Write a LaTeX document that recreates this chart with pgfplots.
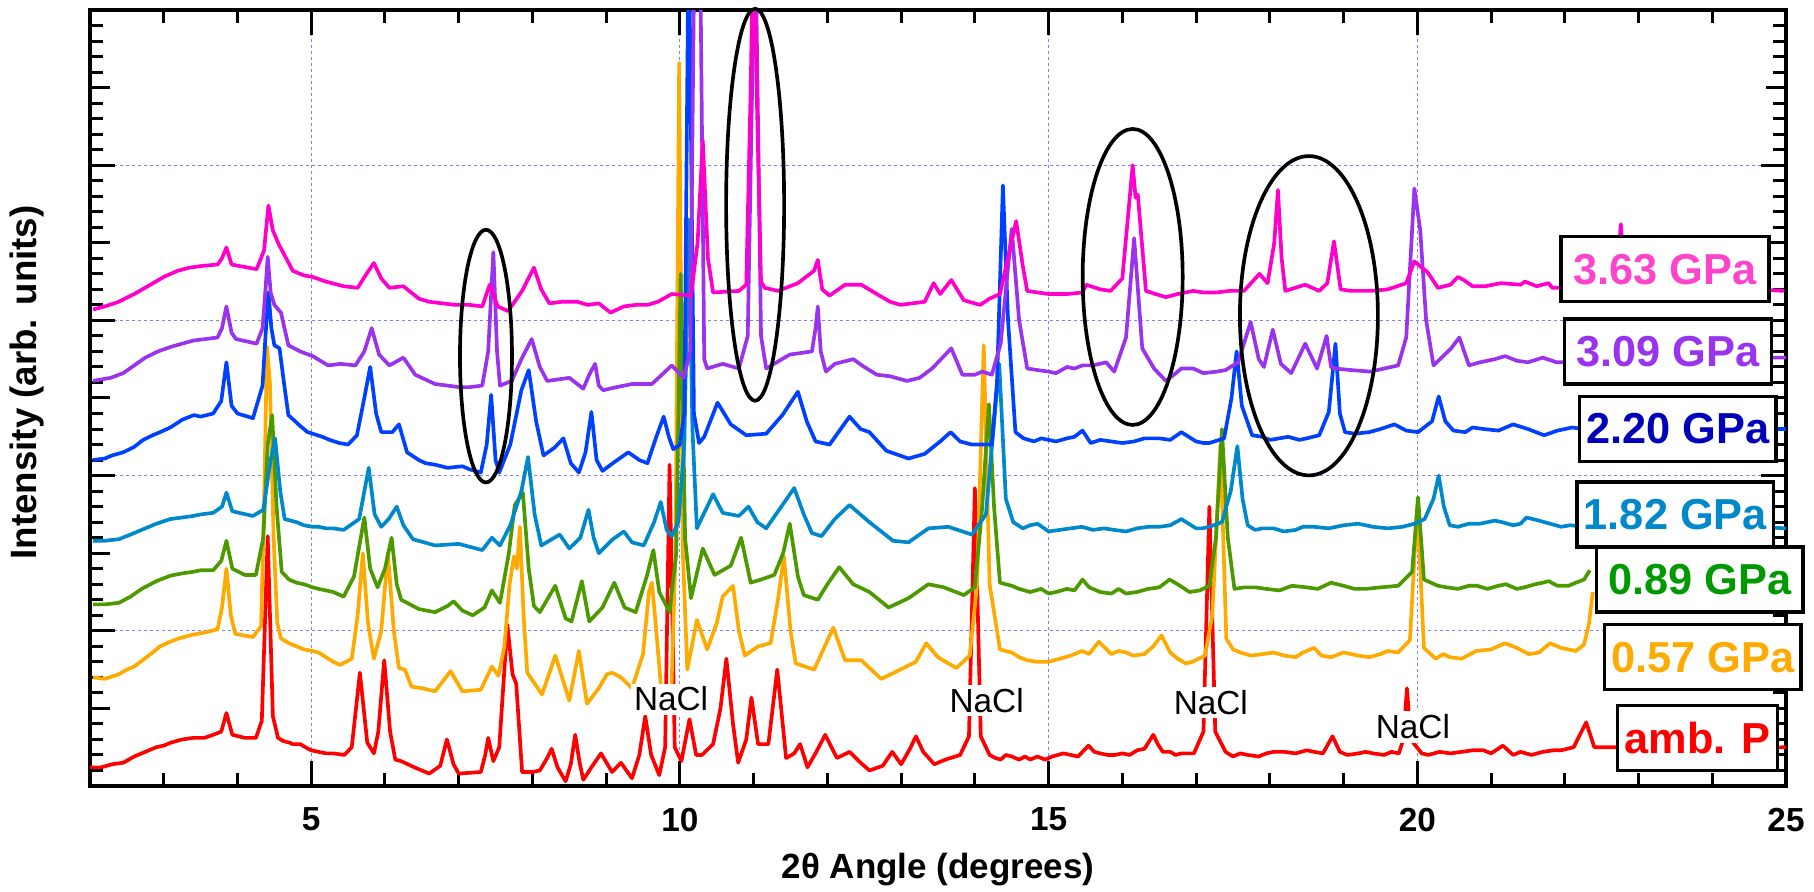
\documentclass[border=0pt]{standalone}
\usepackage{fontspec}
\setmainfont{Liberation Sans}
\usepackage{pgfplots}
\pgfplotsset{compat=1.18}

\definecolor{cRed}{HTML}{FF0000}
\definecolor{cOrange}{HTML}{FFAA00}
\definecolor{cGreen}{HTML}{4C9A00}
\definecolor{cGreenTxt}{HTML}{009900}
\definecolor{cCyan}{HTML}{0088CC}
\definecolor{cBlue}{HTML}{0040FF}
\definecolor{cBlueTxt}{HTML}{0000BB}
\definecolor{cPurple}{HTML}{9933EE}
\definecolor{cPink}{HTML}{FF00CC}
\definecolor{cPinkTxt}{HTML}{FF44CC}
\definecolor{gridc}{HTML}{8080FF}

\begin{document}
\begin{tikzpicture}
\begin{axis}[
  name=ax, scale only axis, width=508.8pt, height=232.8pt,
  xmin=2, xmax=25, ymin=0, ymax=5,
  xtick={5,10,15,20,25}, minor xtick={2,3,...,25},
  ytick={0,1,2,3,4,5}, minor ytick={0,0.1,...,5.01}, yticklabels={},
  extra y ticks={0.5,1.5,2.5,3.5,4.5}, extra y tick labels={},
  extra y tick style={grid=none, major tick length=6pt},
  tick align=inside, xtick pos=both, ytick pos=both,
  major tick length=7.5pt, minor tick length=4pt,
  every tick/.style={black, line width=0.9pt},
  axis line style={line width=1.3pt},
  grid=major, major grid style={gridc, line width=0.35pt, dash pattern=on 1pt off 0.8pt},
  ticklabel style={font=\fontsize{10}{12}\selectfont\bfseries},
  /pgf/number format/assume math mode=true,
  xticklabel style={yshift=-3pt},
  xlabel={2θ Angle (degrees)}, ylabel={Intensity (arb. units)},
  xlabel style={font=\fontsize{10.5}{12}\selectfont\bfseries, at={(axis description cs:0.5,-0.108)}, anchor=center},
  ylabel style={font=\fontsize{11}{13}\selectfont\bfseries, at={(axis description cs:-0.037,0.52)}, anchor=center},
  every axis plot/.append style={line width=1.1pt, no markers, line join=round},
]
% amb. P
\addplot[cRed] coordinates {(2.00,0.12)(2.15,0.12)(2.3,0.14)(2.45,0.15)(2.6,0.19)(2.75,0.22)(2.9,0.25)(3.0,0.26)(3.1,0.28)(3.25,0.30)(3.4,0.31)(3.55,0.31)(3.67,0.33)(3.78,0.35)(3.85,0.47)(3.93,0.33)(4.1,0.31)(4.25,0.31)(4.33,0.42)(4.41,1.61)(4.48,0.45)(4.55,0.31)(4.62,0.29)(4.7,0.28)(4.75,0.27)(4.85,0.27)(4.92,0.25)(5.0,0.23)(5.1,0.22)(5.2,0.21)(5.3,0.21)(5.45,0.20)(5.55,0.25)(5.66,0.73)(5.76,0.28)(5.85,0.21)(5.91,0.35)(5.99,0.81)(6.07,0.35)(6.14,0.17)(6.22,0.16)(6.4,0.12)(6.6,0.08)(6.75,0.13)(6.84,0.30)(6.93,0.14)(7.0,0.08)(7.3,0.09)(7.36,0.2)(7.4,0.31)(7.47,0.16)(7.55,0.25)(7.66,1.04)(7.73,0.72)(7.78,0.66)(7.86,0.09)(8.0,0.09)(8.1,0.10)(8.2,0.18)(8.26,0.24)(8.34,0.12)(8.45,0.03)(8.52,0.14)(8.58,0.33)(8.64,0.15)(8.69,0.04)(8.8,0.12)(8.93,0.21)(9.08,0.09)(9.2,0.15)(9.35,0.05)(9.45,0.20)(9.53,0.45)(9.61,0.20)(9.72,0.07)(9.8,0.25)(9.86,2.07)(9.93,0.25)(10.02,0.16)(10.13,0.43)(10.22,0.2)(10.3,0.20)(10.45,0.27)(10.55,0.5)(10.63,0.82)(10.72,0.4)(10.79,0.15)(10.9,0.3)(10.97,0.57)(11.06,0.27)(11.2,0.27)(11.32,0.75)(11.44,0.18)(11.55,0.21)(11.63,0.27)(11.73,0.12)(11.85,0.22)(11.97,0.33)(12.13,0.18)(12.3,0.22)(12.45,0.15)(12.57,0.10)(12.75,0.13)(12.88,0.22)(13.0,0.14)(13.12,0.24)(13.2,0.32)(13.3,0.22)(13.45,0.14)(13.6,0.17)(13.8,0.20)(13.92,0.32)(14.0,1.92)(14.08,0.32)(14.2,0.20)(14.28,0.18)(14.35,0.17)(14.42,0.2)(14.5,0.19)(14.6,0.17)(14.68,0.19)(14.75,0.17)(14.85,0.19)(14.95,0.17)(15.05,0.19)(15.2,0.21)(15.3,0.20)(15.4,0.19)(15.54,0.26)(15.62,0.22)(15.7,0.21)(15.8,0.2)(15.9,0.20)(16.0,0.21)(16.1,0.2)(16.2,0.23)(16.3,0.24)(16.42,0.33)(16.48,0.27)(16.55,0.22)(16.65,0.22)(16.72,0.2)(16.8,0.21)(16.88,0.21)(16.97,0.21)(17.1,0.35)(17.18,1.80)(17.26,0.35)(17.4,0.22)(17.5,0.19)(17.6,0.21)(17.7,0.20)(17.85,0.19)(17.95,0.21)(18.05,0.22)(18.2,0.22)(18.35,0.21)(18.5,0.23)(18.6,0.22)(18.72,0.21)(18.85,0.32)(18.95,0.22)(19.05,0.2)(19.2,0.21)(19.3,0.22)(19.4,0.21)(19.55,0.2)(19.65,0.22)(19.75,0.21)(19.81,0.3)(19.86,0.63)(19.91,0.3)(20.06,0.21)(20.15,0.2)(20.3,0.22)(20.45,0.21)(20.6,0.22)(20.75,0.23)(20.9,0.23)(21.0,0.21)(21.16,0.26)(21.3,0.20)(21.4,0.22)(21.55,0.2)(21.7,0.22)(21.85,0.23)(21.95,0.23)(22.12,0.25)(22.29,0.41)(22.4,0.25)(22.7,0.25)(23.2,0.24)(23.7,0.26)(24.3,0.24)(25,0.25)};
% 0.57 GPa
\addplot[cOrange] coordinates {(2.04,0.70)(2.2,0.69)(2.39,0.72)(2.5,0.75)(2.6,0.77)(2.85,0.86)(2.95,0.9)(3.09,0.93)(3.2,0.95)(3.35,0.97)(3.45,0.98)(3.57,0.99)(3.73,1.01)(3.79,1.15)(3.85,1.40)(3.91,1.1)(3.97,0.98)(4.21,0.96)(4.32,1.03)(4.36,1.8)(4.40,2.83)(4.44,2.6)(4.49,1.6)(4.54,1.05)(4.59,0.95)(4.7,0.92)(4.8,0.90)(4.9,0.88)(5.02,0.87)(5.1,0.86)(5.2,0.83)(5.3,0.8)(5.39,0.78)(5.55,0.82)(5.63,1.1)(5.70,1.50)(5.77,1.05)(5.85,0.82)(5.95,1.0)(6.04,1.50)(6.12,1.0)(6.19,0.76)(6.27,0.75)(6.36,0.64)(6.5,0.63)(6.68,0.61)(6.89,0.74)(7.05,0.61)(7.3,0.62)(7.45,0.77)(7.54,0.71)(7.62,0.9)(7.69,1.3)(7.75,1.48)(7.79,1.4)(7.83,1.67)(7.88,1.1)(7.93,0.73)(8.13,0.59)(8.31,0.84)(8.5,0.55)(8.63,0.87)(8.74,0.53)(8.9,0.63)(9.01,0.72)(9.08,0.73)(9.2,0.70)(9.35,0.63)(9.5,0.85)(9.58,1.25)(9.62,1.31)(9.68,1.0)(9.75,0.6)(9.88,0.55)(9.94,1.5)(9.99,4.66)(10.04,1.5)(10.1,0.75)(10.23,1.07)(10.37,0.88)(10.5,1.05)(10.58,1.22)(10.72,1.29)(10.8,1.0)(10.88,0.84)(11.06,0.90)(11.23,0.92)(11.33,1.2)(11.41,1.48)(11.5,1.0)(11.57,0.79)(11.82,0.75)(12.08,1.02)(12.24,0.81)(12.46,0.81)(12.73,0.69)(12.99,0.75)(13.2,0.8)(13.34,0.92)(13.5,0.83)(13.64,0.79)(13.75,0.76)(13.93,0.84)(14.03,1.3)(14.12,2.84)(14.2,1.3)(14.34,0.88)(14.5,0.86)(14.6,0.83)(14.71,0.81)(14.85,0.8)(15.0,0.80)(15.15,0.82)(15.3,0.84)(15.45,0.87)(15.55,0.85)(15.68,0.93)(15.85,0.85)(15.95,0.87)(16.05,0.86)(16.15,0.84)(16.3,0.85)(16.42,0.9)(16.53,0.97)(16.65,0.86)(16.75,0.82)(16.86,0.79)(16.95,0.8)(17.12,0.84)(17.22,1.1)(17.33,2.2)(17.41,0.95)(17.5,0.88)(17.6,0.86)(17.75,0.84)(17.9,0.85)(18.05,0.86)(18.2,0.84)(18.35,0.83)(18.45,0.86)(18.6,0.89)(18.7,0.84)(18.83,0.83)(19.0,0.86)(19.2,0.84)(19.35,0.83)(19.5,0.85)(19.6,0.87)(19.74,0.86)(19.9,0.94)(20.0,1.81)(20.09,0.89)(20.25,0.82)(20.35,0.85)(20.44,0.83)(20.6,0.82)(20.8,0.87)(21.0,0.88)(21.19,0.92)(21.35,0.89)(21.51,0.85)(21.65,0.86)(21.8,0.92)(21.95,0.89)(22.05,0.88)(22.15,0.87)(22.26,0.91)(22.33,1.05)(22.38,1.25)};
% 0.89 GPa
\addplot[cGreen] coordinates {(2.04,1.17)(2.2,1.17)(2.39,1.18)(2.55,1.22)(2.7,1.27)(2.9,1.32)(3.09,1.355)(3.25,1.37)(3.4,1.38)(3.5,1.39)(3.67,1.39)(3.78,1.45)(3.85,1.58)(3.93,1.40)(4.1,1.36)(4.25,1.36)(4.35,1.6)(4.41,2.2)(4.47,2.39)(4.53,1.8)(4.6,1.38)(4.7,1.33)(4.8,1.31)(4.9,1.30)(5.02,1.28)(5.1,1.27)(5.2,1.26)(5.3,1.25)(5.44,1.22)(5.58,1.35)(5.72,1.73)(5.8,1.4)(5.9,1.28)(6.0,1.40)(6.09,1.60)(6.16,1.30)(6.22,1.20)(6.46,1.14)(6.68,1.12)(6.85,1.16)(6.93,1.19)(7.05,1.13)(7.19,1.10)(7.35,1.15)(7.45,1.26)(7.56,1.18)(7.68,1.5)(7.76,1.81)(7.87,1.89)(7.95,1.4)(8.02,1.16)(8.1,1.12)(8.31,1.29)(8.45,1.08)(8.53,1.06)(8.67,1.32)(8.77,1.06)(8.95,1.15)(9.11,1.31)(9.25,1.15)(9.4,1.12)(9.55,1.35)(9.64,1.52)(9.72,1.25)(9.86,1.12)(9.95,1.5)(10.01,3.3)(10.07,1.6)(10.15,1.21)(10.31,1.53)(10.47,1.36)(10.69,1.42)(10.83,1.60)(10.96,1.31)(11.1,1.33)(11.28,1.36)(11.4,1.5)(11.49,1.69)(11.6,1.35)(11.68,1.23)(11.87,1.20)(12.0,1.3)(12.16,1.41)(12.35,1.3)(12.57,1.25)(12.83,1.15)(13.1,1.21)(13.37,1.30)(13.58,1.28)(13.85,1.23)(14.0,1.28)(14.1,1.8)(14.19,2.46)(14.26,1.8)(14.34,1.31)(14.5,1.29)(14.6,1.27)(14.75,1.25)(14.9,1.27)(15.0,1.24)(15.1,1.25)(15.25,1.27)(15.35,1.26)(15.46,1.33)(15.55,1.28)(15.7,1.25)(15.85,1.24)(15.95,1.27)(16.05,1.24)(16.2,1.25)(16.35,1.27)(16.5,1.28)(16.64,1.33)(16.75,1.3)(16.91,1.25)(17.05,1.26)(17.18,1.29)(17.27,1.6)(17.35,2.3)(17.43,1.6)(17.52,1.27)(17.65,1.28)(17.8,1.28)(17.95,1.27)(18.13,1.26)(18.3,1.29)(18.5,1.28)(18.65,1.27)(18.83,1.31)(19.0,1.29)(19.15,1.27)(19.3,1.27)(19.5,1.28)(19.74,1.29)(19.93,1.38)(20.01,1.86)(20.09,1.33)(20.28,1.29)(20.4,1.28)(20.55,1.27)(20.7,1.29)(20.81,1.29)(20.95,1.27)(21.1,1.29)(21.2,1.3)(21.35,1.27)(21.45,1.28)(21.6,1.30)(21.7,1.31)(21.78,1.32)(21.9,1.29)(22.05,1.29)(22.15,1.31)(22.26,1.33)(22.34,1.39)};
% 1.82 GPa
\addplot[cCyan] coordinates {(2.04,1.58)(2.2,1.58)(2.39,1.59)(2.55,1.62)(2.7,1.65)(2.9,1.69)(3.09,1.72)(3.25,1.73)(3.4,1.74)(3.5,1.75)(3.67,1.76)(3.79,1.80)(3.85,1.89)(3.93,1.77)(4.21,1.74)(4.35,1.78)(4.45,2.1)(4.51,2.24)(4.58,1.9)(4.64,1.72)(4.8,1.70)(4.9,1.68)(5.02,1.67)(5.1,1.67)(5.2,1.66)(5.3,1.66)(5.44,1.65)(5.65,1.72)(5.78,2.05)(5.86,1.75)(5.95,1.67)(6.05,1.72)(6.16,1.80)(6.25,1.68)(6.38,1.59)(6.68,1.55)(7.0,1.56)(7.32,1.52)(7.45,1.60)(7.56,1.55)(7.7,1.68)(7.85,1.9)(7.94,2.12)(8.03,1.75)(8.12,1.55)(8.37,1.62)(8.5,1.53)(8.65,1.6)(8.76,1.78)(8.83,1.6)(8.9,1.50)(9.09,1.59)(9.24,1.64)(9.35,1.57)(9.51,1.55)(9.65,1.7)(9.74,1.83)(9.82,1.65)(9.89,1.61)(9.98,1.7)(10.06,2.2)(10.12,3.65)(10.17,2.3)(10.23,1.66)(10.35,1.78)(10.45,1.88)(10.58,1.76)(10.8,1.74)(10.93,1.80)(11.05,1.70)(11.17,1.66)(11.39,1.81)(11.55,1.92)(11.68,1.75)(11.79,1.63)(11.92,1.61)(12.1,1.72)(12.30,1.81)(12.57,1.70)(12.89,1.58)(13.1,1.57)(13.37,1.66)(13.64,1.67)(13.96,1.62)(14.15,1.75)(14.33,2.72)(14.42,1.85)(14.52,1.70)(14.65,1.66)(14.75,1.68)(14.85,1.69)(15.0,1.64)(15.15,1.65)(15.3,1.66)(15.45,1.67)(15.6,1.65)(15.75,1.66)(15.89,1.65)(16.05,1.64)(16.2,1.66)(16.35,1.67)(16.5,1.67)(16.65,1.68)(16.8,1.72)(16.9,1.69)(17.0,1.66)(17.08,1.66)(17.18,1.67)(17.35,1.7)(17.47,1.9)(17.56,2.19)(17.63,1.85)(17.7,1.68)(17.8,1.65)(17.9,1.66)(18.05,1.66)(18.19,1.64)(18.35,1.65)(18.45,1.67)(18.6,1.67)(18.8,1.66)(19.0,1.68)(19.2,1.69)(19.4,1.67)(19.6,1.66)(19.8,1.67)(19.96,1.69)(20.1,1.72)(20.22,1.85)(20.29,2.0)(20.36,1.8)(20.44,1.68)(20.55,1.67)(20.7,1.69)(20.85,1.69)(21.05,1.71)(21.15,1.7)(21.3,1.68)(21.4,1.69)(21.48,1.73)(21.65,1.71)(21.8,1.69)(21.95,1.67)(22.07,1.68)(22.3,1.67)(22.6,1.68)(22.9,1.68)(23.3,1.67)(23.6,1.66)(24.2,1.67)(24.6,1.67)(25,1.66)};
% 2.20 GPa
\addplot[cBlue] coordinates {(2.04,2.10)(2.2,2.11)(2.3,2.13)(2.45,2.15)(2.6,2.185)(2.72,2.23)(2.85,2.26)(2.95,2.28)(3.09,2.31)(3.25,2.36)(3.41,2.39)(3.5,2.38)(3.67,2.40)(3.78,2.48)(3.85,2.73)(3.92,2.45)(4.0,2.40)(4.21,2.37)(4.34,2.58)(4.38,2.9)(4.42,3.18)(4.46,2.95)(4.5,2.84)(4.57,2.82)(4.63,2.6)(4.69,2.39)(4.85,2.32)(4.95,2.28)(5.02,2.27)(5.15,2.25)(5.25,2.23)(5.38,2.21)(5.5,2.20)(5.62,2.26)(5.72,2.5)(5.80,2.70)(5.88,2.4)(5.95,2.28)(6.1,2.28)(6.19,2.33)(6.3,2.15)(6.46,2.10)(6.55,2.08)(6.68,2.07)(6.85,2.05)(7.05,2.06)(7.15,2.04)(7.3,2.02)(7.38,2.2)(7.44,2.52)(7.5,2.1)(7.55,2.02)(7.7,2.20)(7.85,2.55)(7.95,2.68)(8.05,2.35)(8.15,2.13)(8.3,2.18)(8.42,2.24)(8.52,2.08)(8.63,2.02)(8.72,2.15)(8.8,2.41)(8.87,2.1)(8.95,2.03)(9.09,2.08)(9.3,2.15)(9.45,2.10)(9.56,2.08)(9.68,2.25)(9.78,2.38)(9.85,2.25)(9.91,2.17)(10.0,2.2)(10.06,2.4)(10.12,5.6)(10.19,2.4)(10.26,2.21)(10.33,2.25)(10.51,2.47)(10.69,2.33)(10.9,2.26)(11.17,2.27)(11.39,2.39)(11.6,2.54)(11.72,2.35)(11.84,2.22)(12.03,2.20)(12.15,2.28)(12.3,2.38)(12.45,2.3)(12.57,2.28)(12.8,2.16)(13.1,2.11)(13.32,2.14)(13.53,2.22)(13.67,2.28)(13.8,2.22)(13.96,2.20)(14.23,2.2)(14.3,2.6)(14.38,3.87)(14.45,3.0)(14.55,2.28)(14.66,2.24)(14.8,2.22)(14.9,2.24)(15.0,2.23)(15.1,2.22)(15.25,2.24)(15.35,2.25)(15.46,2.29)(15.57,2.21)(15.7,2.23)(15.85,2.22)(16.0,2.21)(16.16,2.22)(16.3,2.24)(16.5,2.24)(16.65,2.23)(16.8,2.28)(16.9,2.25)(17.0,2.22)(17.1,2.21)(17.18,2.21)(17.38,2.24)(17.48,2.5)(17.55,2.80)(17.62,2.45)(17.76,2.26)(17.9,2.25)(18.0,2.23)(18.13,2.24)(18.25,2.25)(18.4,2.23)(18.5,2.24)(18.67,2.26)(18.8,2.41)(18.89,2.85)(18.95,2.4)(19.02,2.28)(19.15,2.27)(19.35,2.28)(19.5,2.3)(19.69,2.33)(19.85,2.29)(20.01,2.28)(20.2,2.35)(20.29,2.51)(20.38,2.35)(20.49,2.29)(20.65,2.28)(20.75,2.31)(20.9,2.3)(21.1,2.29)(21.3,2.33)(21.5,2.3)(21.72,2.26)(21.9,2.29)(22.1,2.31)(22.4,2.29)(22.8,2.29)(23.1,2.3)(23.5,2.3)(23.9,2.29)(24.3,2.29)(24.6,2.3)(25,2.30)};
% 3.09 GPa
\addplot[cPurple] coordinates {(2.04,2.61)(2.28,2.63)(2.45,2.66)(2.6,2.71)(2.75,2.76)(2.92,2.80)(3.1,2.83)(3.25,2.85)(3.4,2.87)(3.57,2.88)(3.73,2.89)(3.79,2.95)(3.85,3.09)(3.92,2.92)(3.98,2.88)(4.26,2.85)(4.34,2.95)(4.38,3.2)(4.41,3.41)(4.45,3.18)(4.5,3.1)(4.59,3.05)(4.69,2.84)(4.85,2.8)(5.02,2.77)(5.23,2.71)(5.4,2.72)(5.6,2.71)(5.72,2.8)(5.82,2.95)(5.92,2.78)(6.06,2.71)(6.25,2.76)(6.41,2.65)(6.68,2.59)(6.85,2.58)(7.0,2.57)(7.15,2.57)(7.32,2.58)(7.4,2.8)(7.47,3.44)(7.52,2.8)(7.56,2.58)(7.72,2.61)(7.85,2.75)(7.99,2.88)(8.1,2.7)(8.2,2.61)(8.5,2.63)(8.69,2.56)(8.77,2.65)(8.85,2.72)(8.9,2.58)(8.96,2.55)(9.14,2.57)(9.35,2.59)(9.62,2.59)(9.89,2.71)(10.05,2.63)(10.14,2.8)(10.2,5.6)(10.27,5.6)(10.33,2.75)(10.37,2.69)(10.58,2.72)(10.8,2.69)(10.92,2.9)(11.02,5.6)(11.1,2.9)(11.17,2.69)(11.49,2.78)(11.79,2.80)(11.84,2.95)(11.87,3.09)(11.91,2.8)(11.98,2.67)(12.1,2.72)(12.35,2.75)(12.5,2.7)(12.67,2.65)(12.85,2.64)(13.08,2.61)(13.25,2.63)(13.42,2.69)(13.68,2.82)(13.83,2.65)(14.0,2.65)(14.1,2.67)(14.23,2.65)(14.35,2.85)(14.50,3.59)(14.6,3.0)(14.71,2.69)(14.85,2.68)(15.0,2.67)(15.1,2.66)(15.25,2.7)(15.35,2.69)(15.46,2.71)(15.6,2.71)(15.78,2.73)(15.89,2.67)(16.05,2.89)(16.16,3.53)(16.27,2.82)(16.43,2.69)(16.59,2.61)(16.7,2.65)(16.8,2.69)(16.96,2.69)(17.1,2.66)(17.28,2.67)(17.4,2.68)(17.57,2.73)(17.74,2.99)(17.85,2.75)(17.92,2.70)(18.04,2.94)(18.15,2.72)(18.29,2.66)(18.48,2.85)(18.64,2.69)(18.77,2.90)(18.83,2.7)(18.88,2.69)(19.1,2.68)(19.37,2.67)(19.55,2.69)(19.74,2.71)(19.85,2.89)(19.96,3.85)(20.04,3.58)(20.12,3.0)(20.22,2.71)(20.46,2.82)(20.57,2.89)(20.7,2.71)(20.85,2.73)(21.05,2.75)(21.19,2.77)(21.35,2.74)(21.5,2.73)(21.7,2.76)(21.89,2.73)(22.2,2.73)(22.5,2.75)(22.8,2.76)(23.3,2.74)(23.8,2.74)(24.2,2.75)(24.6,2.76)(25,2.76)};
% 3.63 GPa
\addplot[cPink] coordinates {(2.04,3.07)(2.2,3.09)(2.39,3.12)(2.6,3.17)(2.82,3.23)(3.0,3.28)(3.19,3.32)(3.35,3.34)(3.5,3.35)(3.73,3.36)(3.79,3.40)(3.85,3.47)(3.92,3.36)(4.26,3.33)(4.36,3.45)(4.42,3.74)(4.48,3.58)(4.56,3.49)(4.75,3.32)(4.9,3.29)(5.02,3.28)(5.2,3.25)(5.44,3.22)(5.63,3.21)(5.75,3.3)(5.85,3.37)(5.95,3.27)(6.06,3.21)(6.25,3.22)(6.46,3.14)(6.6,3.12)(6.78,3.11)(6.95,3.1)(7.15,3.1)(7.32,3.09)(7.42,3.23)(7.53,3.09)(7.67,3.06)(7.86,3.19)(8.02,3.34)(8.12,3.2)(8.23,3.11)(8.4,3.12)(8.61,3.12)(8.75,3.1)(8.9,3.11)(9.06,3.05)(9.24,3.09)(9.4,3.1)(9.56,3.10)(9.7,3.12)(9.89,3.17)(10.15,3.16)(10.24,3.5)(10.31,4.16)(10.38,3.4)(10.45,3.18)(10.8,3.19)(10.9,3.23)(10.96,4.5)(11.0,5.6)(11.04,4.5)(11.1,3.25)(11.15,3.21)(11.33,3.19)(11.6,3.24)(11.82,3.32)(11.87,3.39)(11.93,3.2)(12.03,3.16)(12.24,3.23)(12.46,3.23)(12.67,3.17)(12.85,3.12)(12.99,3.10)(13.15,3.11)(13.32,3.12)(13.44,3.24)(13.53,3.17)(13.68,3.26)(13.85,3.13)(14.07,3.10)(14.2,3.14)(14.34,3.17)(14.47,3.45)(14.56,3.64)(14.65,3.35)(14.71,3.19)(14.85,3.18)(15.0,3.17)(15.25,3.17)(15.46,3.18)(15.51,3.23)(15.7,3.2)(15.84,3.19)(16.0,3.27)(16.14,4.0)(16.18,3.79)(16.21,3.81)(16.32,3.19)(16.45,3.17)(16.59,3.15)(16.75,3.17)(16.96,3.19)(17.1,3.18)(17.28,3.18)(17.45,3.19)(17.65,3.19)(17.86,3.30)(17.97,3.24)(18.06,3.5)(18.11,3.84)(18.16,3.4)(18.21,3.19)(18.48,3.23)(18.67,3.19)(18.78,3.24)(18.87,3.51)(18.96,3.20)(19.1,3.19)(19.37,3.19)(19.6,3.2)(19.85,3.24)(19.96,3.38)(20.14,3.31)(20.28,3.21)(20.45,3.23)(20.55,3.28)(20.63,3.26)(20.75,3.22)(20.92,3.22)(21.13,3.24)(21.4,3.23)(21.46,3.25)(21.62,3.22)(21.78,3.24)(21.83,3.21)(22.1,3.21)(22.3,3.22)(22.5,3.23)(22.7,3.25)(22.76,3.62)(22.82,3.25)(23.2,3.22)(23.5,3.22)(23.9,3.21)(24.3,3.21)(24.6,3.2)(24.97,3.19)};

\coordinate (BL) at (rel axis cs:0,0);
\coordinate (TR) at (rel axis cs:1,1);
\coordinate (E1) at (axis cs:7.37,2.77);
\coordinate (E2) at (axis cs:11.02,3.745);
\coordinate (E3) at (axis cs:16.14,3.28);
\coordinate (E4) at (axis cs:18.53,3.03);
\coordinate (N1) at (axis cs:9.88,0.56);
\coordinate (N2) at (axis cs:14.16,0.55);
\coordinate (N3) at (axis cs:17.2,0.54);
\coordinate (N4) at (axis cs:19.94,0.38);
\coordinate (L1) at (axis cs:23.36,3.33);
\coordinate (L2) at (axis cs:23.40,2.80);
\coordinate (L3) at (axis cs:23.53,2.30);
\coordinate (L4) at (axis cs:23.50,1.75);
\coordinate (L5) at (axis cs:23.83,1.33);
\coordinate (L6) at (axis cs:23.87,0.83);
\coordinate (L7) at (axis cs:23.80,0.31);
\end{axis}

\begin{scope}[line width=1.1pt]
\draw (E1) ellipse [x radius=7.8pt, y radius=37.9pt];
\draw (E2) ellipse [x radius=8.7pt, y radius=58.8pt];
\draw (E3) ellipse [x radius=15pt, y radius=44.4pt];
\draw (E4) ellipse [x radius=20.7pt, y radius=47.9pt];
\end{scope}

\tikzset{nacl/.style={fill=white, inner sep=1pt, font=\fontsize{10}{12}\selectfont},
  gpa/.style={draw=black, line width=1pt, fill=white, minimum height=19.5pt, inner sep=0pt,
    font=\fontsize{13}{15}\selectfont\bfseries}}
\node[nacl] at (N1) {NaCl};
\node[nacl] at (N2) {NaCl};
\node[nacl] at (N3) {NaCl};
\node[nacl] at (N4) {NaCl};

\node[gpa, minimum width=62.4pt, text=cPinkTxt] at (L1) {3.63 GPa};
\node[gpa, minimum width=62pt, text=cPurple] at (L2) {3.09 GPa};
\node[gpa, minimum width=59pt, text=cBlueTxt] at (L3) {2.20 GPa};
\node[gpa, minimum width=59pt, text=cCyan] at (L4) {1.82 GPa};
\node[gpa, minimum width=62pt, text=cGreenTxt] at (L5) {0.89 GPa};
\node[gpa, minimum width=59pt, text=cOrange] at (L6) {0.57 GPa};
\node[gpa, minimum width=48pt, text=cRed] at (L7) {amb. P};

\pgfresetboundingbox
\path[use as bounding box] ([shift={(-27pt,-31.8pt)}]BL) rectangle ([shift={(8.4pt,3pt)}]TR);
\end{tikzpicture}
\end{document}
